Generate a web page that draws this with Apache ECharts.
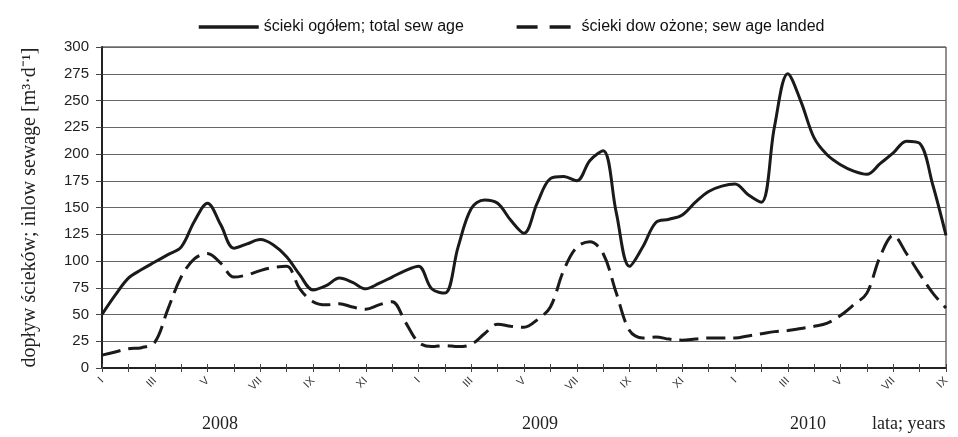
<!DOCTYPE html>
<html><head><meta charset="utf-8">
<script src="https://cdn.jsdelivr.net/npm/echarts@6/dist/echarts.min.js"></script>
<style>html,body{margin:0;padding:0;background:#fff}#c{width:958px;height:437px}</style>
</head><body><div id="c"></div>
<script>
// month index since January 2008 (half-month steps)
const t = [0,0.5,1,1.5,2,2.5,3,3.5,4,4.5,5,5.5,6,6.5,7,7.5,8,8.5,9,9.5,10,10.5,11,11.5,12,12.5,13,13.5,14,14.5,15,15.5,16,16.5,17,17.5,18,18.5,19,19.5,20,20.5,21,21.5,22,22.5,23,23.5,24,24.5,25,25.5,26,26.5,27,27.5,28,28.5,29,29.5,30,30.5,31,31.5,32];
const totalSewage = [50,68,84,92,99,106,113,137,154,134,112,116,120,115,104,87,73,77,84,80,74,79,85,91,95,74,70,113,149,157,154,138,126,154,177,179,175,194,203,145,95,113,136,139,143,155,165,170,172,162,155,226,275,249,215,199,190,184,181,191,201,212,210,171,124];
const landedSewage = [12,15,18,19,24,55,85,102,107,98,85,87,91,94,95,74,62,59,60,57,55,59,62,43,24,20,21,20,22,32,41,39,38,45,57,91,113,118,107,70,35,28,29,27,26,27,28,28,28,30,32,34,35,37,39,42,49,59,70,104,124,107,88,70,56];
const romanMonths = ['I','II','III','IV','V','VI','VII','VIII','IX','X','XI','XII'];
const yearLabels = ['2008','2009','2010'];
const seriesNames = ['ścieki ogółem; total sew age','ścieki dow ożone; sew age landed'];
const yTitle = 'dopływ ścieków; inlow sewage [m³·d⁻¹]';
const xTitle = 'lata; years';

const chart = echarts.init(document.getElementById('c'));
const sans = 'Liberation Sans, Arial, sans-serif';
const serif = 'Liberation Serif, Times New Roman, serif';
const ink = '#1a1a1a';
const xBase = {type:'value', min:0, max:32, interval:1, splitLine:{show:false}};
chart.setOption({
  animation:false,
  backgroundColor:'#fff',
  grid:{left:102,right:12,top:47,bottom:69,show:true,borderColor:'#222',borderWidth:1},
  legend:{
    left:192, top:14, itemWidth:60, itemHeight:14, itemGap:51,
    itemStyle:{opacity:0},
    textStyle:{fontFamily:sans, fontSize:16, color:'#111'},
    data:[
      {name:seriesNames[0], lineStyle:{color:ink,width:3.5,type:'solid'}},
      {name:seriesNames[1], lineStyle:{color:ink,width:3.5,type:[21,12]}}
    ]
  },
  xAxis:[
    Object.assign({}, xBase, {
      axisLine:{lineStyle:{color:'#222',width:2}},
      axisTick:{length:4,lineStyle:{color:'#444'}},
      axisLabel:{rotate:45, margin:11, fontFamily:sans, fontSize:11, color:'#333',
        formatter:v => (v%2===0 ? romanMonths[v%12] : '')}
    }),
    Object.assign({}, xBase, {
      position:'bottom',
      axisLine:{show:false},
      axisTick:{inside:true,length:4,lineStyle:{color:'#444'}},
      axisLabel:{show:false}
    })
  ],
  yAxis:{
    type:'value', min:0, max:300, interval:25,
    name:yTitle, nameLocation:'middle', nameGap:62, nameRotate:90,
    nameTextStyle:{fontFamily:serif, fontSize:20, color:'#222'},
    axisLine:{show:true,lineStyle:{color:'#222',width:2}},
    axisTick:{show:true,length:6,lineStyle:{color:'#444'}},
    splitLine:{lineStyle:{color:'#666',width:1}},
    axisLabel:{fontFamily:sans, fontSize:15, color:'#222', margin:13}
  },
  graphic:[
    {type:'text', left:202, top:415, style:{text:yearLabels[0], font:'18px '+serif, fill:'#222'}},
    {type:'text', left:522, top:415, style:{text:yearLabels[1], font:'18px '+serif, fill:'#222'}},
    {type:'text', left:790, top:415, style:{text:yearLabels[2], font:'18px '+serif, fill:'#222'}},
    {type:'text', left:872, top:415, style:{text:xTitle, font:'18px '+serif, fill:'#222'}}
  ],
  series:[
    {name:seriesNames[0], type:'line', smooth:0.35, symbol:'none',
     lineStyle:{color:ink, width:3},
     itemStyle:{color:ink},
     data:t.map((x,i)=>[x,totalSewage[i]])},
    {name:seriesNames[1], type:'line', smooth:0.35, symbol:'none',
     lineStyle:{color:ink, width:3, type:[19,8]},
     itemStyle:{color:ink},
     data:t.map((x,i)=>[x,landedSewage[i]])}
  ]
});
</script></body></html>
